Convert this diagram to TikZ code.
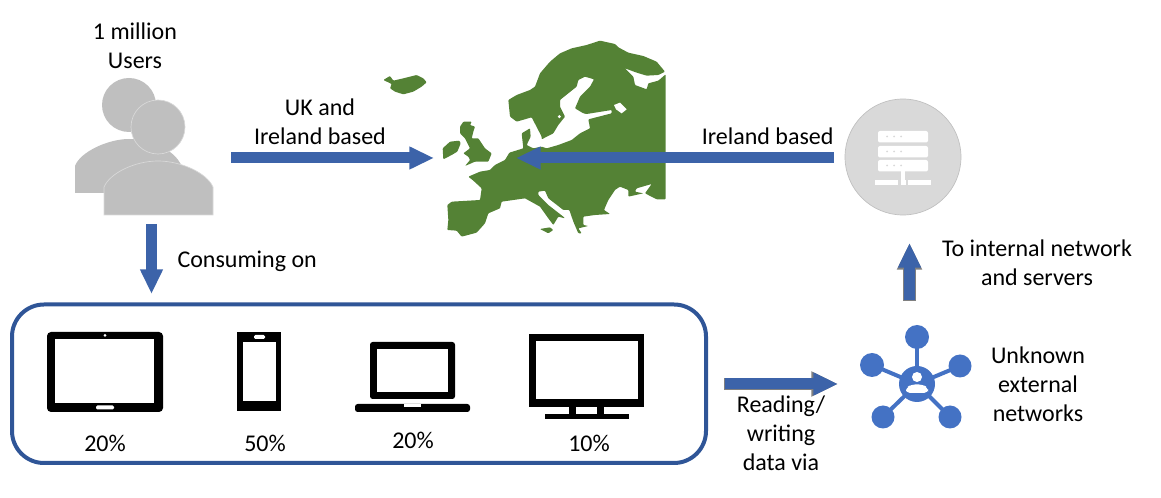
\documentclass[tikz,border=0pt]{standalone}
\usepackage{fontspec}
\setmainfont{Carlito}
\usetikzlibrary{arrows.meta}
\definecolor{mapgreen}{HTML}{548235}
\definecolor{arrowblue}{HTML}{3C63A9}
\definecolor{boxblue}{HTML}{2F5597}
\definecolor{netblue}{HTML}{4472C4}
\definecolor{usergrey}{HTML}{BFBFBF}
\definecolor{servergrey}{HTML}{D9D9D9}
\tikzset{every picture/.style={line width=0.75pt},
  label/.style={inner sep=0pt,align=center,font=\fontsize{18}{21.75}\selectfont},
  blockarrow/.style={draw=arrowblue,line width=8.25pt,-{Triangle[length=18.5pt,width=16pt]}},
  greyarrow/.style={blockarrow,preaction={draw=gray,line width=9.5pt,shorten <=-0.6pt,-{Triangle[length=20pt,width=17.5pt]}}},
  land/.style={fill=mapgreen,rounded corners=0.6pt},
  device/.style={fill=black,draw=none},
  hole/.style={fill=white,draw=none}}

\begin{document}
\begin{tikzpicture}[x=0.75pt,y=0.75pt,yscale=-1]
\path[use as bounding box] (0,0) rectangle (1161,498);

%Europe
\begin{scope}[shift={(360,20)},x=0.25pt,y=0.25pt]
\path[land] (445,240) -- (470,225) -- (510,210) -- (525,200) -- (540,160) -- (570,125) -- (600,100) -- (635,85) -- (680,75) -- (720,62) -- (765,72) -- (775,82) -- (805,98) -- (850,108) -- (890,125) -- (915,155) -- (895,165) -- (860,167) -- (830,158) -- (795,145) -- (820,170) -- (825,195) -- (860,208) -- (865,190) -- (895,182) -- (917,163) -- (917,538) -- (890,538) -- (855,520) -- (875,492) -- (830,505) -- (825,515) -- (850,520) -- (805,530) -- (805,510) -- (780,500) -- (765,510) -- (745,540) -- (732,570) -- (750,582) -- (705,585) -- (670,590) -- (670,615) -- (685,618) -- (655,625) -- (665,640) -- (655,640) -- (640,605) -- (628,570) -- (610,570) -- (565,535) -- (555,512) -- (535,515) -- (535,525) -- (565,555) -- (610,590) -- (615,595) -- (595,590) -- (580,615) -- (565,595) -- (540,560) -- (495,535) -- (425,545) -- (420,565) -- (385,580) -- (375,610) -- (350,638) -- (305,650) -- (290,632) -- (262,630) -- (265,600) -- (262,555) -- (275,545) -- (360,540) -- (365,505) -- (340,482) -- (325,470) -- (360,455) -- (390,450) -- (405,435) -- (435,420) -- (448,398) -- (490,385) -- (485,340) -- (510,325) -- (512,350) -- (500,375) -- (520,385) -- (545,380) -- (560,385) -- (595,375) -- (635,360) -- (660,340) -- (690,325) -- (685,298) -- (755,280) -- (755,270) -- (680,282) -- (670,280) -- (645,265) -- (660,230) -- (690,200) -- (702,178) -- (675,170) -- (655,180) -- (650,200) -- (600,240) -- (600,260) -- (615,290) -- (595,315) -- (580,340) -- (545,358) -- (545,350) -- (515,292) -- (470,305) -- (450,290) -- cycle;
\path[hole] (762,255) -- (780,248) -- (800,268) -- (785,280) -- (768,268) -- cycle;
\path[hole] (598,290) circle (5);
\path[land] (540,627) -- (570,622) -- (580,630) -- (565,640) -- cycle;
%Iceland
\path[land] (70,180) -- (90,168) -- (100,182) -- (130,175) -- (170,165) -- (190,175) -- (200,187) -- (185,200) -- (160,215) -- (130,223) -- (105,215) -- (90,205) -- (95,192) -- cycle;
%Ireland
\path[land] (248,385) -- (270,365) -- (298,362) -- (302,370) -- (292,395) -- (275,405) -- (250,418) -- cycle;
%Great Britain
\path[land] (300,320) -- (310,305) -- (335,305) -- (330,315) -- (345,320) -- (340,335) -- (335,355) -- (355,355) -- (375,385) -- (395,400) -- (385,425) -- (345,425) -- (315,438) -- (330,420) -- (325,410) -- (310,400) -- (330,385) -- (315,355) -- (300,340) -- cycle;
\end{scope}

%Users
\fill[usergrey] (129,105) circle (27);
\fill[usergrey] (75,193) -- (75,166) .. controls (80,152) and (108,139) .. (129,139) .. controls (150,139) and (178,150) .. (183,170) -- (183,193) -- cycle;
\filldraw[fill=usergrey,draw=servergrey,line width=0.5pt] (158,127) circle (27);
\filldraw[fill=usergrey,draw=servergrey,line width=0.5pt] (104,215) -- (104,187) .. controls (110,173) and (135,161) .. (158,161) .. controls (181,161) and (207,173) .. (213,187) -- (213,215) -- cycle;

%Server
\filldraw[fill=servergrey,draw=usergrey,line width=0.5pt] (903,157) circle (58);
\foreach \y in {131,146,160} {
  \fill[white,rounded corners=1.5] (878,\y) rectangle (928,\y+11.5);
  \foreach \x in {887,894,901} \fill[servergrey] (\x,\y+5.5) circle (1);
}
\fill[white] (901,171) rectangle (905,180);
\fill[white] (875,180) rectangle (898,185);
\fill[white] (901,180) rectangle (906,185);
\fill[white] (908,180) rectangle (931,185);

%Box of devices
\draw[boxblue,line width=3pt,rounded corners=24] (12,304.5) rectangle (706,463);

%Tablet
\fill[device,rounded corners=3] (47,332) rectangle (163,412);
\fill[hole] (55,339) rectangle (154,403);
\fill[hole] (105,335.5) circle (1.5);
\fill[hole,rounded corners=1] (96,405.5) rectangle (114,409.5);
%Phone
\fill[device] (237,332) rectangle (281,411);
\fill[hole] (243,342) rectangle (276,401);
\fill[hole,rounded corners=1] (254,335) rectangle (265,339);
%Laptop
\fill[device,rounded corners=2] (370,342) rectangle (455,399);
\fill[hole] (377,349) rectangle (448,392);
\fill[device,rounded corners=2] (355,404) rectangle (470,412);
\fill[hole] (404,404) rectangle (421,407);
%Monitor
\fill[device] (529,334) rectangle (644,407);
\fill[hole] (536,341) rectangle (638,399);
\fill[device] (569,407) rectangle (576,415);
\fill[device] (597,407) rectangle (604,415);
\fill[device] (545,414) rectangle (629,419);

%Network
\coordinate (hub) at (917,384);
\foreach \x/\y/\r [count=\i] in {917/337/12,872/365/12,960/366/11.5,883/417/11.5,950/417/11.5} {
  \draw[netblue,line width=3pt] (hub) -- (\x,\y);
  \fill[netblue] (\x,\y) circle (\r);
}
\fill[netblue] (hub) circle (18);
\fill[white] (917,377) circle (5);
\fill[white,rounded corners=3] (906,393) -- (906,388) -- (911,384.5) -- (923,384.5) -- (928,388) -- (928,393) -- cycle;

%Arrows
\coordinate (usersEnd) at (231,158);
\coordinate (ukEnd) at (434,158);
\coordinate (serverEnd) at (834,158);
\coordinate (mapEnd) at (516,158);
\coordinate (userBottom) at (151.5,224);
\coordinate (boxTop) at (151.5,294);
\coordinate (boxRight) at (725,384);
\coordinate (netLeft) at (838,384);
\coordinate (netTop) at (909.5,300);
\coordinate (serverBottom) at (909.5,243);
\draw[blockarrow] (usersEnd) -- (ukEnd);
\draw[blockarrow] (serverEnd) -- (mapEnd);
\draw[blockarrow] (userBottom) -- (boxTop);
\draw[greyarrow] (boxRight) -- (netLeft);
\draw[greyarrow] (netTop) -- (serverBottom);

% Text Node
\node[label] (usersText) at (135,45.5) {1 million\\Users};
\node[label] (ukText) at (320,121.5) {UK and\\Ireland based};
\node[label,anchor=west] (consumeText) at (177,261.5) {Consuming on};
\node[label,anchor=east] (irelandText) at (834,136) {Ireland based};
\node[label] (internalText) at (1037,262.5) {To internal network\\and servers};
\node[label] (unknownText) at (1038,384) {Unknown\\external\\networks};
\node[label] (readText) at (781,433) {Reading/\\writing\\data via};
\node[label] (tabletText) at (105,443) {20\%};
\node[label] (phoneText) at (265,443) {50\%};
\node[label] (laptopText) at (413,440) {20\%};
\node[label] (monitorText) at (589,443) {10\%};

\end{tikzpicture}
\end{document}
